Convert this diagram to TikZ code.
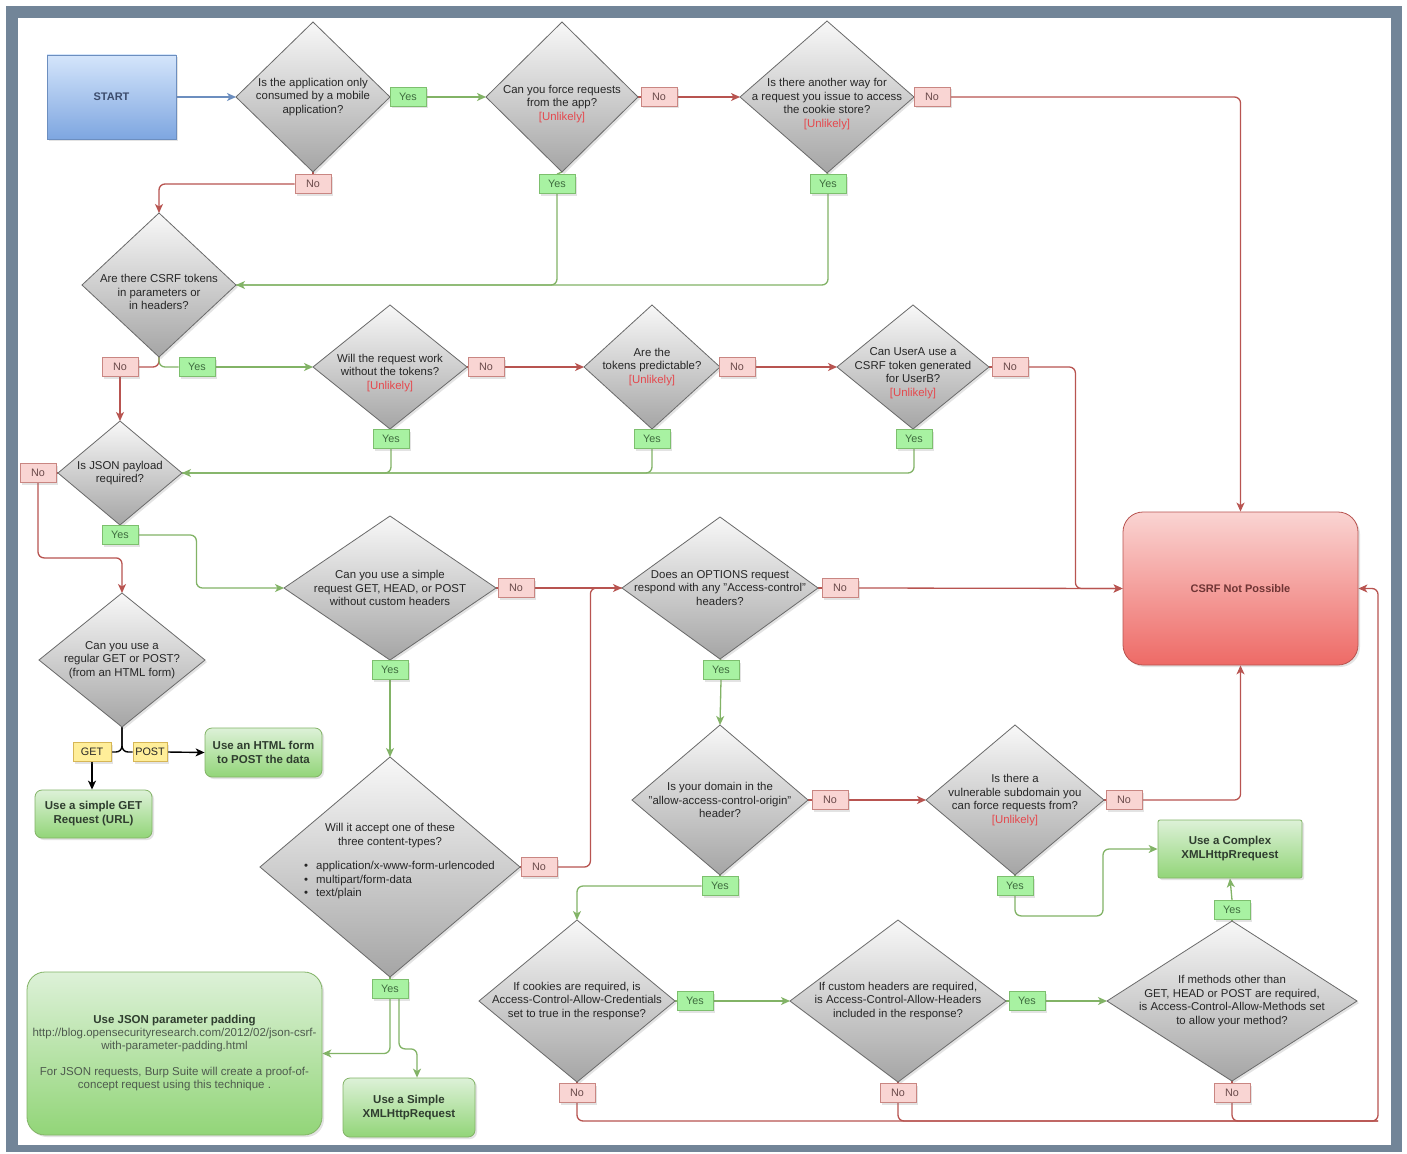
\documentclass[tikz,border=0pt]{standalone}
\usepackage{fontspec}
\setmainfont{Liberation Sans}
\usetikzlibrary{shapes.geometric,arrows.meta,shadows,calc}

\definecolor{framec}{RGB}{114,133,152}
\definecolor{diaTop}{HTML}{F8F8F8}
\definecolor{diaBot}{HTML}{A5A5A5}
\definecolor{diaLine}{HTML}{6A6A6A}
\definecolor{txt}{HTML}{262626}
\definecolor{unl}{HTML}{E5484D}
\definecolor{redL}{HTML}{B85450}
\definecolor{grnL}{HTML}{82B366}
\definecolor{bluL}{HTML}{6C8EBF}
\definecolor{yesF}{HTML}{A8F2A2}
\definecolor{yesD}{HTML}{7DBF6E}
\definecolor{yesT}{HTML}{3E6B3E}
\definecolor{noF}{HTML}{F9D5D3}
\definecolor{noD}{HTML}{C98682}
\definecolor{noT}{HTML}{6A4A4A}
\definecolor{yelF}{HTML}{FFEE99}
\definecolor{yelD}{HTML}{D6B656}
\definecolor{gTop}{HTML}{DDF1D8}
\definecolor{gBot}{HTML}{92D578}
\definecolor{gLine}{HTML}{82B366}
\definecolor{gTxt}{HTML}{2F3D2F}
\definecolor{rTop}{HTML}{FAD4D2}
\definecolor{rBot}{HTML}{EE6A66}
\definecolor{rTxt}{HTML}{6E3434}
\definecolor{bTop}{HTML}{D4E5FB}
\definecolor{bBot}{HTML}{7EA6E0}
\definecolor{bTxt}{HTML}{3B4B6B}

\newcommand\unlk[1]{{\color{unl}#1}}

\pgfdeclarelayer{frame}
\pgfdeclarelayer{wires}
\pgfsetlayers{frame,wires,main}

\begin{document}
\begin{tikzpicture}[x=1pt,y=-1pt,
  shad/.style={drop shadow={shadow xshift=2pt,shadow yshift=-2pt,opacity=0.22}},
  dia/.style={diamond,draw=diaLine,line width=0.8pt,top color=diaTop,bottom color=diaBot,
    inner sep=0pt,outer sep=0pt,shad},
  qtxt/.style={align=center,font=\fontsize{11.4}{13.5}\selectfont,text=txt,inner sep=0pt},
  lab/.style={minimum width=36pt,minimum height=19pt,inner sep=0pt,line width=0.8pt,
    font=\fontsize{10.8}{12}\selectfont,shad},
  yes/.style={lab,draw=yesD,fill=yesF,text=yesT},
  no/.style={lab,draw=noD,fill=noF,text=noT},
  opt/.style={lab,minimum width=34pt,draw=yelD,fill=yelF,text=txt},
  gbox/.style={draw=gLine,line width=0.8pt,top color=gTop,bottom color=gBot,rounded corners=7pt,
    align=center,font=\bfseries\fontsize{11.5}{14}\selectfont,text=gTxt,inner sep=0pt,shad},
  wire/.style={line width=1.3pt,rounded corners=6pt},
  rw/.style={wire,draw=redL},
  gw/.style={wire,draw=grnL},
  bw/.style={wire,draw=bluL},
  kw/.style={wire,draw=black,line width=1.4pt},
  arr/.style={-{Stealth[length=9pt,width=8pt,inset=2.5pt]}}
]
\useasboundingbox (0,0) rectangle (1407,1153);

% page frame
\begin{pgfonlayer}{frame}
  \fill[framec] (6,6) rectangle (1402,1152);
  \fill[white] (18,18) rectangle (1391,1145);
\end{pgfonlayer}

% start
\node[draw=bluL,line width=0.8pt,top color=bTop,bottom color=bBot,shad,
  minimum width=129pt,minimum height=84pt,font=\bfseries\fontsize{11}{13}\selectfont,text=bTxt]
  (start) at (111.5,97) {START};

% first row
\node[dia,minimum width=154pt,minimum height=150pt] (d1) at (313,97) {};
\node[qtxt] (d1t) at (313,97) {Is the application only\\consumed by a mobile\\application?};
\node[yes] (y1) at (408,97) {Yes};
\node[no] (n1) at (313,184) {No};

\node[dia,minimum width=152pt,minimum height=150pt] (d2) at (562,97) {};
\node[qtxt] (d2t) at (562,104) {Can you force requests\\from the app?\\\unlk{[Unlikely]}};
\node[yes] (y2) at (557,184) {Yes};
\node[no] (n2) at (659,97) {No};

\node[dia,minimum width=174pt,minimum height=152pt] (d3) at (827,97) {};
\node[qtxt] (d3t) at (827,104) {Is there another way for\\a request you issue to access\\the cookie store?\\\unlk{[Unlikely]}};
\node[yes] (y3) at (828,184) {Yes};
\node[no] (n3) at (932,97) {No};

% token checks
\node[dia,minimum width=154pt,minimum height=144pt] (d4) at (159,285) {};
\node[qtxt] (d4t) at (159,292) {Are there CSRF tokens\\in parameters or\\in headers?};
\node[no] (n4) at (120,367) {No};
\node[yes] (y4) at (197,367) {Yes};

\node[dia,minimum width=154pt,minimum height=124pt] (d5) at (390,367) {};
\node[qtxt] (d5t) at (390,373) {Will the request work\\without the tokens?\\\unlk{[Unlikely]}};
\node[no] (n5) at (486,367) {No};
\node[yes] (y5) at (391,439) {Yes};

\node[dia,minimum width=136pt,minimum height=124pt] (d6) at (652,367) {};
\node[qtxt] (d6t) at (652,367) {Are the\\tokens predictable?\\\unlk{[Unlikely]}};
\node[no] (n6) at (737,367) {No};
\node[yes] (y6) at (652,439) {Yes};

\node[dia,minimum width=152pt,minimum height=124pt] (d7) at (913,367) {};
\node[qtxt] (d7t) at (913,373) {Can UserA use a\\CSRF token generated\\for UserB?\\\unlk{[Unlikely]}};
\node[no] (n7) at (1010,367) {No};
\node[yes] (y7) at (914,439) {Yes};

% JSON branch
\node[dia,minimum width=124pt,minimum height=104pt] (d8) at (120,473) {};
\node[qtxt] (d8t) at (120,473) {Is JSON payload\\required?};
\node[no] (n8) at (38,473) {No};
\node[yes] (y8) at (120,535) {Yes};

\node[dia,minimum width=166pt,minimum height=134pt] (d9) at (122,660) {};
\node[qtxt] (d9t) at (122,660) {Can you use a\\regular GET or POST?\\(from an HTML form)};
\node[opt,minimum width=38pt] (get) at (92,752) {GET};
\node[opt] (post) at (150,752) {POST};
\node[gbox,minimum width=117pt,minimum height=49pt] (htmlform) at (263.5,752.5) {Use an HTML form\\to POST the data};
\node[gbox,minimum width=117pt,minimum height=48pt] (simpleget) at (93.5,814) {Use a simple GET\\Request (URL)};

\node[dia,minimum width=212pt,minimum height=144pt] (d10) at (390,588) {};
\node[qtxt] (d10t) at (390,588) {Can you use a simple\\request GET, HEAD, or POST\\without custom headers};
\node[no] (n10) at (516,588) {No};
\node[yes] (y10) at (390,670) {Yes};

\node[dia,minimum width=260pt,minimum height=220pt] (d11) at (390,867) {};
\node[qtxt] (d11t) at (390,835.5) {Will it accept one of these\\three content-types?};
\node[qtxt,align=left,anchor=west] (d11l) at (304,880.5)
  {\textbullet\hspace{8pt}application/x-www-form-urlencoded\\
   \textbullet\hspace{8pt}multipart/form-data\\
   \textbullet\hspace{8pt}text/plain};
\node[no] (n11) at (539,867) {No};
\node[yes] (y11) at (390,989) {Yes};

\node[gbox,rounded corners=18pt,minimum width=295pt,minimum height=163pt,
  font=\fontsize{11.5}{13}\selectfont,text=gTxt!85!white] (jsonpad) at (174.5,1053.5)
  {{\bfseries\fontsize{11.5}{13}\selectfont\color{gTxt}Use JSON parameter padding}\\
   http://blog.opensecurityresearch.com/2012/02/json-csrf-\\
   with-parameter-padding.html\\[13pt]
   For JSON requests, Burp Suite will create a proof-of-\\
   concept request using this technique .};
\node[gbox,minimum width=132pt,minimum height=59pt] (simplexhr) at (409,1107.5) {Use a Simple\\XMLHttpRequest};

% CORS branch
\node[dia,minimum width=196pt,minimum height=142pt] (d12) at (720,588) {};
\node[qtxt] (d12t) at (720,588) {Does an OPTIONS request\\respond with any "Access-control"\\headers?};
\node[no] (n12) at (840,588) {No};
\node[yes] (y12) at (721,670) {Yes};

\node[dia,minimum width=176pt,minimum height=150pt] (d13) at (720,800) {};
\node[qtxt] (d13t) at (720,800) {Is your domain in the\\"allow-access-control-origin"\\header?};
\node[no] (n13) at (830,800) {No};
\node[yes] (y13) at (720,886) {Yes};

\node[dia,minimum width=178pt,minimum height=150pt] (d14) at (1015,800) {};
\node[qtxt] (d14t) at (1015,800) {Is there a\\vulnerable subdomain you\\can force requests from?\\\unlk{[Unlikely]}};
\node[no] (n14) at (1124,800) {No};
\node[yes] (y14) at (1015,886) {Yes};

\node[gbox,rounded corners=2pt,minimum width=144pt,minimum height=58pt] (complexxhr) at (1230,849) {Use a Complex\\XMLHttpRrequest};

\node[dia,minimum width=196pt,minimum height=162pt] (d15) at (577,1001) {};
\node[qtxt] (d15t) at (577,1001) {If cookies are required, is\\Access-Control-Allow-Credentials\\set to true in the response?};
\node[yes] (y15) at (695,1001) {Yes};
\node[no] (n15) at (577,1093) {No};

\node[dia,minimum width=216pt,minimum height=162pt] (d16) at (898,1001) {};
\node[qtxt] (d16t) at (898,1001) {If custom headers are required,\\is Access-Control-Allow-Headers\\included in the response?};
\node[yes] (y16) at (1027,1001) {Yes};
\node[no] (n16) at (898,1093) {No};

\node[dia,minimum width=250pt,minimum height=160pt] (d17) at (1232,1001) {};
\node[qtxt] (d17t) at (1232,1001) {If methods other than\\GET, HEAD or POST are required,\\is Access-Control-Allow-Methods set\\to allow your method?};
\node[yes] (y17) at (1232,910) {Yes};
\node[no] (n17) at (1232,1093) {No};

% end state
\node[draw=redL,line width=0.8pt,top color=rTop,bottom color=rBot,rounded corners=20pt,shad,
  minimum width=235pt,minimum height=153pt,font=\bfseries\fontsize{11}{13}\selectfont,text=rTxt]
  (csrf) at (1240.5,588.5) {CSRF Not Possible};

\coordinate (busR) at (1378,1121);

% connectors
\begin{pgfonlayer}{wires}
  \draw[bw,arr] (start.east) -- (d1.west);

  \draw[gw] (d1.east) -- (y1.west);
  \draw[gw,arr] (y1.east) -- (d2.west);
  \draw[rw] (d1.south) -- (n1.north);
  \draw[rw,arr] (n1.west) -| (d4.north);

  \draw[rw] (d2.east) -- (n2.west);
  \draw[rw,arr] (n2.east) -- (d3.west);
  \draw[gw] (d2.south) -- (y2.north);
  \draw[gw,arr] (y2.south) |- (d4.east);

  \draw[rw] (d3.east) -- (n3.west);
  \draw[rw,arr] (n3.east) -| (csrf.north);
  \draw[gw] (d3.south) -- (y3.north);
  \draw[gw] (y3.south) |- (d4.east);

  \draw[rw] (d4.south) |- (n4.east);
  \draw[gw] (d4.south) |- (y4.west);
  \draw[gw,arr] (y4.east) -- (d5.west);
  \draw[rw,arr] (n4.south) -- (d8.north);

  \draw[rw] (d5.east) -- (n5.west);
  \draw[rw,arr] (n5.east) -- (d6.west);
  \draw[rw] (d6.east) -- (n6.west);
  \draw[rw,arr] (n6.east) -- (d7.west);
  \draw[rw] (d7.east) -- (n7.west);
  \draw[rw,arr] (n7.east) -- ++(47,0) |- (csrf.west);

  \draw[gw] (d5.south) -- (y5.north);
  \draw[gw] (d6.south) -- (y6.north);
  \draw[gw] (d7.south) -- (y7.north);
  \draw[gw,arr] (y5.south) |- (d8.east);
  \draw[gw] (y6.south) |- (d8.east);
  \draw[gw] (y7.south) |- (d8.east);

  \draw[rw] (d8.west) -- (n8.east);
  \draw[rw,arr] (n8.south) -- ++(0,75) -| (d9.north);
  \draw[gw] (d8.south) -- (y8.north);
  \draw[gw,arr] (y8.east) -- ++(58,0) |- (d10.west);

  \draw[kw] (d9.south) |- (get.east);
  \draw[kw] (d9.south) |- (post.west);
  \draw[kw,arr] (get.south) -- (get.south |- simpleget.north);
  \draw[kw,arr] (post.east) -- (htmlform.west);

  \draw[rw] (d10.east) -- (n10.west);
  \draw[rw,arr] (n10.east) -- (d12.west);
  \draw[gw] (d10.south) -- (y10.north);
  \draw[gw,arr] (y10.south) -- (d11.north);

  \draw[rw] (d11.east) -- (n11.west);
  \draw[rw] (n11.east) -- ++(33,0) |- (d12.west);
  \draw[gw] (d11.south) -- (y11.north);
  \draw[gw,arr] (y11.south) |- (jsonpad.east);
  \draw[gw,arr] ([xshift=9pt]y11.south) -- ++(0,50) -| ([xshift=8pt]simplexhr.north);

  \draw[rw] (d12.east) -- (n12.west);
  \draw[rw,arr] (n12.east) -- (csrf.west);
  \draw[gw] (d12.south) -- (y12.north);
  \draw[gw,arr] (y12.south) -- (d13.north);

  \draw[rw] (d13.east) -- (n13.west);
  \draw[rw,arr] (n13.east) -- (d14.west);
  \draw[gw] (d13.south) -- (y13.north);
  \draw[gw,arr] (y13.west) -| (d15.north);

  \draw[rw] (d14.east) -- (n14.west);
  \draw[rw,arr] (n14.east) -| (csrf.south);
  \draw[gw] (d14.south) -- (y14.north);
  \draw[gw,arr] (y14.south) -- ++(0,20) -- ++(88,0) |- (complexxhr.west);

  \draw[gw] (d15.east) -- (y15.west);
  \draw[gw,arr] (y15.east) -- (d16.west);
  \draw[gw] (d16.east) -- (y16.west);
  \draw[gw,arr] (y16.east) -- (d17.west);
  \draw[gw] (d17.north) -- (y17.south);
  \draw[gw,arr] (y17.north) -- (complexxhr.south);

  \draw[rw] (d15.south) -- (n15.north);
  \draw[rw] (d16.south) -- (n16.north);
  \draw[rw] (d17.south) -- (n17.north);
  \draw[rw,arr] (n15.south) |- (busR) |- (csrf.east);
  \draw[rw] (n16.south) |- (busR);
  \draw[rw] (n17.south) |- (busR);
\end{pgfonlayer}
\end{tikzpicture}
\end{document}
